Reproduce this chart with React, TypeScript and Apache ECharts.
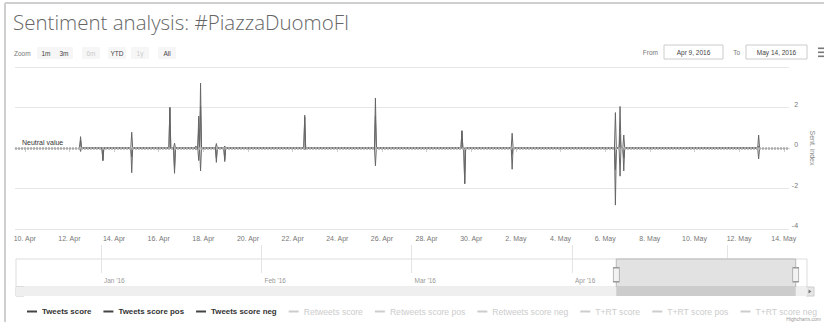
import React, { useEffect, useRef } from 'react';
import * as echarts from 'echarts';

// ---------- data ----------
const spikeTimes = [
  '2016-04-12 12:00', '2016-04-13 12:00', '2016-04-14 19:00', '2016-04-16 12:00',
  '2016-04-16 17:00', '2016-04-17 16:00', '2016-04-17 19:00', '2016-04-17 21:00',
  '2016-04-18 14:00', '2016-04-18 23:00', '2016-04-22 13:00', '2016-04-25 17:00',
  '2016-04-29 14:00', '2016-04-29 17:00', '2016-05-01 20:00', '2016-05-06 11:00',
  '2016-05-06 16:00', '2016-05-06 20:00', '2016-05-12 21:00',
];
const scoreValues = [0.39, -0.62, -0.44, 2.0, -1.01, 0, 0.95, 2.07, -0.49, -0.57, 1.52, 1.59, 0.85, -1.76, -0.32, -1.07, 0.66, -0.49, 0.1];
const posValues = [0.56, 0, 0.78, 2.0, 0.24, 0.1, 1.57, 3.2, 0.22, 0.1, 1.62, 2.47, 0.85, 0, 0.73, 1.75, 2.05, 0.64, 0.64];
const negValues = [-0.17, -0.62, -1.22, 0, -1.25, -0.1, -0.62, -1.13, -0.71, -0.67, -0.1, -0.88, 0, -1.76, -1.05, -2.82, -1.39, -1.13, -0.54];

const xTickDates = [
  '2016-04-10', '2016-04-12', '2016-04-14', '2016-04-16', '2016-04-18', '2016-04-20',
  '2016-04-22', '2016-04-24', '2016-04-26', '2016-04-28', '2016-04-30', '2016-05-02',
  '2016-05-04', '2016-05-06', '2016-05-08', '2016-05-10', '2016-05-12', '2016-05-14',
];
const navMonthTicks = ['2016-01-01', '2016-02-01', '2016-03-01', '2016-04-01', '2016-05-01'];
const viewRange = ['2016-04-09 13:30', '2016-05-14 05:45'];
const navRange = ['2015-12-15 14:00', '2016-05-16 10:00'];
const yRange = [-4, 4];
const yStep = 2;
const neutralValue = 0;

const visibleSeries = ['Tweets score', 'Tweets score pos', 'Tweets score neg'];
const hiddenSeries = [
  'Retweets score', 'Retweets score pos', 'Retweets score neg',
  'T+RT score', 'T+RT score pos', 'T+RT score neg',
];
const zoomButtons = ['1m', '3m', '6m', 'YTD', '1y', 'All'];
const disabledButtons = ['6m', '1y'];

// ---------- helpers ----------
const MONTHS = ['Jan', 'Feb', 'Mar', 'Apr', 'May', 'Jun', 'Jul', 'Aug', 'Sep', 'Oct', 'Nov', 'Dec'];
const BASE = Date.UTC(2016, 3, 10);
const DAY = 86400000;
function toDay(s: string): number {
  const [d, t] = s.split(' ');
  const [y, m, dd] = d.split('-').map(Number);
  const [hh, mm] = (t || '00:00').split(':').map(Number);
  return (Date.UTC(y, m - 1, dd, hh, mm) - BASE) / DAY;
}
function dateOf(v: number) {
  return new Date(BASE + Math.round(v * DAY));
}
function spikeSeries(values: number[]) {
  const pts: number[][] = [];
  spikeTimes.forEach((t, i) => {
    const d = toDay(t);
    pts.push([d - 1 / 24, 0], [d, values[i]], [d + 1 / 24, 0]);
  });
  return pts;
}
function fmtInput(s: string) {
  const d = dateOf(toDay(s));
  return `${MONTHS[d.getUTCMonth()]} ${d.getUTCDate()}, ${d.getUTCFullYear()}`;
}

const FONT = 'Liberation Sans, Arial, sans-serif';
const LINE = '#666666';

export default function App() {
  const ref = useRef<HTMLDivElement>(null);
  useEffect(() => {
    const chart = echarts.init(ref.current!, null, { renderer: 'svg' });
    const vMin = toDay(viewRange[0]);
    const vMax = toDay(viewRange[1]);
    const nMin = toDay(navRange[0]);
    const nMax = toDay(navRange[1]);
    const xTicks = xTickDates.map(toDay);
    const navTicks = navMonthTicks.map(toDay);

    const mainSeries: any[] = [
      { name: visibleSeries[0], values: scoreValues },
      { name: visibleSeries[1], values: posValues },
      { name: visibleSeries[2], values: negValues },
    ].map((s, i) => ({
      name: s.name,
      type: 'line',
      xAxisIndex: 0,
      yAxisIndex: 0,
      data: spikeSeries(s.values),
      showSymbol: false,
      silent: true,
      color: '#444',
      lineStyle: { color: LINE, width: 1 },
      markLine: i === 0 ? {
        silent: true,
        symbol: ['none', 'none'],
        data: [{ yAxis: neutralValue }],
        lineStyle: { color: '#adadad', width: 2.5, type: [2, 1] },
        label: {
          show: true,
          formatter: 'Neutral value',
          position: 'insideStartTop',
          distance: [7, 2],
          fontSize: 7,
          color: '#333',
          fontFamily: FONT,
        },
        emphasis: { disabled: true },
      } : undefined,
    }));

    const hidden = hiddenSeries.map((n) => ({
      name: n, type: 'line', data: [], xAxisIndex: 0, yAxisIndex: 0, showSymbol: false, color: '#888',
    }));

    const selected: Record<string, boolean> = {};
    hiddenSeries.forEach((n) => (selected[n] = false));

    const btnCenters = [46, 64, 91, 117, 140, 167];
    const graphics: any[] = [
      { type: 'line', shape: { x1: 5, y1: 3, x2: 5, y2: 322 }, style: { stroke: '#cfcfcf', lineWidth: 2 } },
      { type: 'line', shape: { x1: 5, y1: 3, x2: 824, y2: 3 }, style: { stroke: '#cfcfcf', lineWidth: 2 } },
      { type: 'text', x: 14, y: 53, style: { text: 'Zoom', fontSize: 6.5, fill: '#777', fontFamily: FONT, align: 'left', verticalAlign: 'middle' } },
    ];
    zoomButtons.forEach((b, i) => {
      const dis = disabledButtons.includes(b);
      graphics.push({ type: 'rect', shape: { x: btnCenters[i] - 9, y: 47, width: 18, height: 12, r: 1 }, style: { fill: '#f6f6f6' } });
      graphics.push({ type: 'text', x: btnCenters[i], y: 53, style: { text: b, fontSize: 6.5, fill: dis ? '#cccccc' : '#444', fontFamily: FONT, align: 'center', verticalAlign: 'middle' } });
    });
    graphics.push(
      { type: 'text', x: 658, y: 52, style: { text: 'From', fontSize: 6.5, fill: '#777', fontFamily: FONT, align: 'right', verticalAlign: 'middle' } },
      { type: 'rect', shape: { x: 664, y: 45, width: 59, height: 14 }, style: { fill: '#fff', stroke: '#cccccc', lineWidth: 1 } },
      { type: 'text', x: 693.5, y: 52, style: { text: fmtInput(viewRange[0]), fontSize: 6.5, fill: '#444', fontFamily: FONT, align: 'center', verticalAlign: 'middle' } },
      { type: 'text', x: 740, y: 52, style: { text: 'To', fontSize: 6.5, fill: '#777', fontFamily: FONT, align: 'right', verticalAlign: 'middle' } },
      { type: 'rect', shape: { x: 746, y: 45, width: 61, height: 14 }, style: { fill: '#fff', stroke: '#cccccc', lineWidth: 1 } },
      { type: 'text', x: 776.5, y: 52, style: { text: fmtInput(viewRange[1]), fontSize: 6.5, fill: '#444', fontFamily: FONT, align: 'center', verticalAlign: 'middle' } },
      { type: 'rect', shape: { x: 818, y: 47.5, width: 6, height: 1.6 }, style: { fill: '#777' } },
      { type: 'rect', shape: { x: 818, y: 51.5, width: 6, height: 1.6 }, style: { fill: '#777' } },
      { type: 'rect', shape: { x: 818, y: 55.5, width: 6, height: 1.6 }, style: { fill: '#777' } },
      // scrollbar buttons
      { type: 'rect', shape: { x: 16, y: 287, width: 8, height: 9 }, style: { fill: '#e6e6e6', stroke: '#cccccc', lineWidth: 1 } },
      { type: 'polygon', shape: { points: [[21.5, 289.5], [18.5, 291.5], [21.5, 293.5]] }, style: { fill: '#777' } },
      { type: 'rect', shape: { x: 806, y: 287, width: 8, height: 9 }, style: { fill: '#e6e6e6', stroke: '#cccccc', lineWidth: 1 } },
      { type: 'polygon', shape: { points: [[808.5, 289.5], [811.5, 291.5], [808.5, 293.5]] }, style: { fill: '#777' } },
      { type: 'text', right: 3, bottom: 1, style: { text: 'Highcharts.com', fontSize: 5, fill: '#999', fontFamily: FONT } },
    );

    const option: any = {
      animation: false,
      backgroundColor: '#ffffff',
      textStyle: { fontFamily: FONT },
      title: {
        text: 'Sentiment analysis: #PiazzaDuomoFI',
        left: 8,
        top: 6,
        textStyle: { fontSize: 20.5, fontWeight: 300, color: '#666', fontFamily: 'Open Sans, Liberation Sans, sans-serif' },
      },
      legend: {
        left: 22,
        top: 302,
        itemWidth: 10,
        itemHeight: 2,
        itemGap: 12,
        icon: 'rect',
        inactiveColor: '#cccccc',
        selected,
        textStyle: { fontSize: 7.8, color: '#333', fontFamily: FONT },
        data: [
          ...visibleSeries.map((n) => ({ name: n, textStyle: { fontWeight: 'bold', fontSize: 7.9 } })),
          ...hiddenSeries.map((n) => ({ name: n, textStyle: { fontSize: 8.6 } })),
        ],
      },
      graphic: graphics,
      grid: [
        { left: 15, right: 17, top: 67, height: 162 },
        { left: 16, right: 17, top: 259, height: 28, show: true, borderColor: '#dddddd', borderWidth: 1 },
        { left: 16, right: 17, top: 287, height: 9 },
      ],
      xAxis: [
        {
          type: 'value', gridIndex: 0, min: vMin, max: vMax,
          axisLine: { show: true, lineStyle: { color: '#d0d0d0' } },
          axisTick: { show: true, customValues: xTicks, length: 4, lineStyle: { color: '#d0d0d0' } },
          splitLine: { show: false },
          axisLabel: {
            customValues: xTicks, fontSize: 7, color: '#777', margin: 6,
            formatter: (v: number) => { const d = dateOf(v); return `${d.getUTCDate()}. ${MONTHS[d.getUTCMonth()]}`; },
          },
        },
        {
          type: 'value', gridIndex: 1, min: nMin, max: nMax,
          axisLine: { show: false },
          axisTick: { show: true, customValues: navTicks, inside: true, length: 28, lineStyle: { color: '#e4e4e4' } },
          splitLine: { show: false },
          axisLabel: {
            customValues: navTicks, inside: true, fontSize: 6.5, color: '#999', margin: 3, align: 'left', padding: [0, 0, 0, 3],
            formatter: (v: number) => { const d = dateOf(v); return `${MONTHS[d.getUTCMonth()]} '${String(d.getUTCFullYear()).slice(2)}`; },
          },
        },
        { type: 'value', gridIndex: 2, min: nMin, max: nMax, show: false },
      ],
      yAxis: [
        {
          type: 'value', gridIndex: 0, position: 'right', min: yRange[0], max: yRange[1], interval: yStep,
          name: 'Sent. index', nameLocation: 'middle', nameGap: 14, nameRotate: -90,
          nameTextStyle: { fontSize: 7, color: '#888' },
          axisLine: { show: false }, axisTick: { show: false },
          splitLine: { show: true, lineStyle: { color: '#e6e6e6' } },
          axisLabel: { fontSize: 7, color: '#777', align: 'right', margin: 9, verticalAlign: 'bottom', showMaxLabel: false },
        },
        { type: 'value', gridIndex: 1, min: yRange[0], max: yRange[1], show: false },
        { type: 'value', gridIndex: 2, min: 0, max: 1, show: false },
      ],
      series: [
        ...mainSeries,
        ...hidden,
        {
          name: 'navigator', type: 'line', xAxisIndex: 1, yAxisIndex: 1, silent: true,
          data: spikeSeries(scoreValues), showSymbol: false,
          lineStyle: { opacity: 0, width: 0 },
          markArea: {
            silent: true,
            itemStyle: { color: '#e2e2e2', borderColor: '#b8b8b8', borderWidth: 1 },
            data: [[{ xAxis: vMin }, { xAxis: vMax }]],
          },
          markPoint: {
            silent: true,
            symbol: 'rect',
            symbolSize: [6, 14],
            itemStyle: { color: '#f2f2f2', borderColor: '#999', borderWidth: 1 },
            label: { show: false },
            data: [{ coord: [vMin, -0.5] }, { coord: [vMax, -0.5] }],
          },
        },
        {
          name: 'scrollbar', type: 'line', xAxisIndex: 2, yAxisIndex: 2, silent: true, data: [],
          markArea: {
            silent: true,
            data: [
              [{ xAxis: nMin, itemStyle: { color: '#efefef' } }, { xAxis: nMax }],
              [{ xAxis: vMin, itemStyle: { color: '#cccccc' } }, { xAxis: vMax }],
            ],
          },
        },
      ],
    };
    chart.setOption(option);
    return () => chart.dispose();
  }, []);
  return <div ref={ref} style={{ position: 'fixed', left: 0, top: 0, width: 824, height: 322, background: '#fff' }} />;
}
